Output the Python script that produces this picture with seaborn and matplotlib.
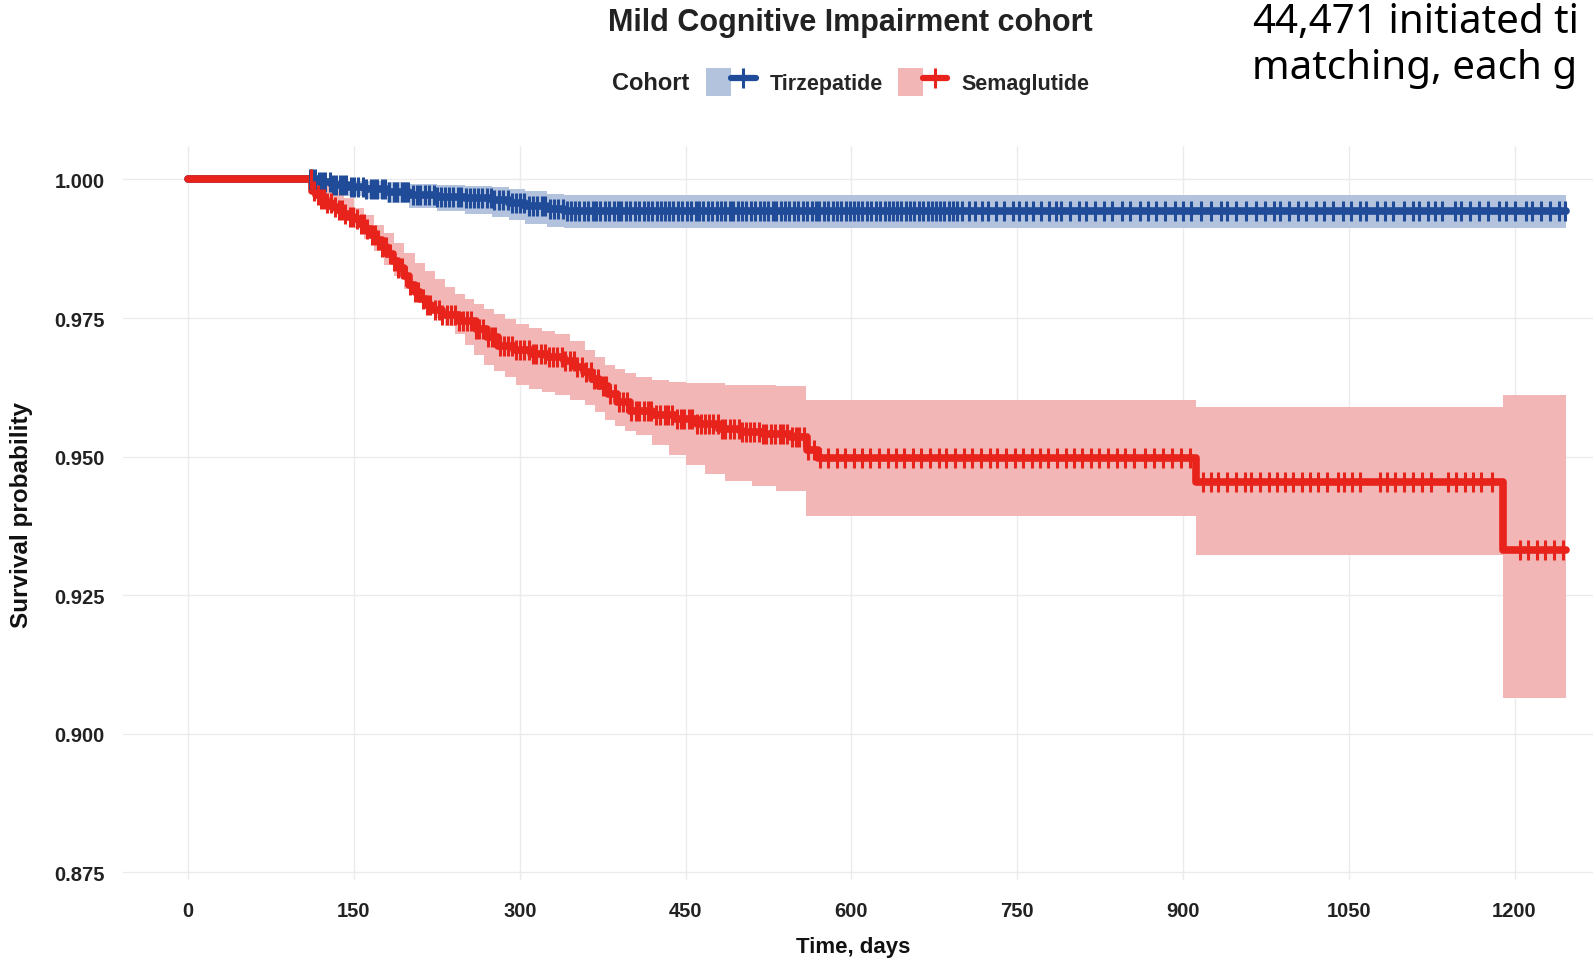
import numpy as np
import pandas as pd
import matplotlib.pyplot as plt
import seaborn as sns
from matplotlib.patches import Patch
from matplotlib.lines import Line2D
from matplotlib.legend_handler import HandlerTuple

# step curves (time in days, survival probability)
tirz_time = [0, 107, 118, 130, 145, 160, 180, 200, 225, 250, 275, 290, 305, 325, 340, 1247]
tirz_surv = [1.0, 1.0, 0.9995, 0.9990, 0.9986, 0.9982, 0.9978, 0.9972, 0.9968, 0.9966,
             0.9963, 0.9958, 0.9952, 0.9946, 0.9943, 0.9943]
tirz_lower = [1.0, 1.0, 0.9986, 0.9978, 0.9971, 0.9965, 0.9958, 0.9949, 0.9943, 0.9938,
              0.9933, 0.9926, 0.9920, 0.9914, 0.9912, 0.9912]
tirz_upper = [1.0, 1.0, 1.0, 0.9999, 0.9998, 0.9997, 0.9995, 0.9992, 0.9990, 0.9988,
              0.9986, 0.9983, 0.9979, 0.9974, 0.9972, 0.9972]

sema_time = [0, 107, 112, 116, 120, 125, 130, 135, 140, 145, 150, 155, 160, 165, 170,
             175, 180, 185, 190, 195, 200, 205, 210, 215, 220, 230, 245, 260, 270, 280,
             295, 310, 325, 340, 350, 358, 365, 372, 380, 388, 400, 420, 440, 460, 480,
             500, 520, 545, 560, 570, 912, 1190, 1247]
sema_surv = [1.0, 1.0, 0.998, 0.9972, 0.9965, 0.9958, 0.995, 0.9944, 0.9938, 0.9933,
             0.9928, 0.9919, 0.991, 0.990, 0.989, 0.9878, 0.9865, 0.9853, 0.984, 0.9825,
             0.981, 0.9797, 0.9785, 0.9774, 0.9765, 0.9755, 0.9745, 0.973, 0.9715,
             0.970, 0.9692, 0.9685, 0.968, 0.9672, 0.9662, 0.9652, 0.9640, 0.9628,
             0.9612, 0.9598, 0.9583, 0.9575, 0.9568, 0.9558, 0.955, 0.9545, 0.954,
             0.9535, 0.9512, 0.9498, 0.9455, 0.9332, 0.9332]

sema_ci_time = [0, 107, 115, 123, 132, 141, 150, 159, 168, 177, 186, 195, 205, 214, 223,
                232, 241, 250, 259, 268, 277, 287, 297, 308, 320, 332, 345, 359, 368,
                377, 386, 395, 405, 420, 435, 450, 468, 486, 510, 532, 559, 912, 1190, 1247]
sema_lower = [1.0, 1.0, 0.9978, 0.9965, 0.9948, 0.993, 0.9912, 0.9893, 0.987, 0.9845,
              0.9825, 0.9803, 0.9785, 0.9766, 0.9750, 0.9735, 0.9721, 0.9702, 0.9684,
              0.9666, 0.9655, 0.9643, 0.9630, 0.9622, 0.9616, 0.9611, 0.9602, 0.9593,
              0.9580, 0.9566, 0.9556, 0.9546, 0.9538, 0.9520, 0.9503, 0.9484, 0.9468,
              0.9456, 0.9446, 0.9438, 0.9392, 0.9323, 0.9064, 0.9064]
sema_upper = [1.0, 1.0, 1.0, 0.9992, 0.9980, 0.9966, 0.9949, 0.9935, 0.9918, 0.9903,
              0.9885, 0.9867, 0.9850, 0.9834, 0.9820, 0.9806, 0.9794, 0.9785, 0.9776,
              0.9766, 0.9757, 0.9748, 0.9739, 0.9732, 0.9726, 0.9721, 0.9708, 0.9693,
              0.9680, 0.9666, 0.9658, 0.9651, 0.9644, 0.9638, 0.9635, 0.9633, 0.9632,
              0.9630, 0.9629, 0.9628, 0.9602, 0.9589, 0.9611, 0.9611]

# censoring times (+ marks)
tirz_censor = [110, 112, 115, 118, 121, 124, 128, 131, 134, 137, 140, 143, 147, 150, 154,
               158, 161, 165, 168, 171, 175, 178, 182, 186, 189, 193, 196, 199, 203, 207,
               210, 214, 218, 222, 225, 229, 232, 236, 240, 244, 247, 251, 255, 259, 262,
               266, 270, 274, 277, 281, 285, 289, 293, 297, 300, 304, 308, 312, 316, 320,
               323, 327, 331, 335, 339, 343, 346, 350, 354, 358, 362, 366, 369, 373, 377,
               381, 385, 389, 392, 396, 400, 404, 408, 412, 416, 420, 424, 428, 431, 435,
               439, 443, 447, 451, 455, 459, 462, 466, 470, 474, 478, 482, 486, 490, 493,
               497, 501, 505, 509, 513, 517, 521, 525, 529, 532, 536, 540, 544, 548, 552,
               556, 560, 564, 568, 571, 575, 579, 583, 587, 591, 595, 599, 602, 606, 610,
               614, 618, 622, 626, 630, 634, 638, 641, 645, 649, 653, 657, 661, 665, 669,
               673, 677, 680, 684, 688, 692, 696, 700, 706, 712, 718, 724, 731, 738, 746,
               752, 758, 764, 772, 779, 785, 790, 798, 806, 812, 820, 829, 836, 845, 852,
               861, 868, 876, 884, 893, 900, 907, 916, 925, 934, 940, 948, 957, 966, 974,
               982, 988, 996, 1004, 1011, 1020, 1028, 1036, 1045, 1052, 1060, 1066, 1076,
               1083, 1090, 1100, 1108, 1114, 1122, 1128, 1134, 1146, 1152, 1160, 1168,
               1176, 1186, 1192, 1200, 1210, 1216, 1224, 1232, 1240, 1246]
sema_censor = [111, 114, 117, 120, 123, 126, 129, 133, 136, 139, 142, 146, 149, 153, 156,
               159, 162, 166, 169, 172, 175, 179, 183, 186, 190, 193, 197, 201, 205, 208,
               212, 216, 219, 223, 227, 230, 234, 238, 241, 245, 249, 252, 256, 260, 263,
               267, 271, 275, 278, 282, 286, 289, 293, 297, 300, 304, 308, 312, 315, 319,
               323, 326, 330, 334, 338, 341, 345, 349, 352, 356, 360, 364, 367, 371, 375,
               378, 382, 386, 390, 393, 397, 401, 405, 408, 412, 416, 419, 423, 427, 431,
               434, 438, 442, 446, 449, 453, 456, 460, 464, 468, 471, 475, 479, 483, 486,
               490, 494, 498, 501, 505, 508, 512, 516, 520, 523, 527, 531, 535, 538, 542,
               546, 550, 553, 557, 561, 566, 572, 579, 587, 594, 602, 610, 617, 625, 633,
               640, 648, 656, 663, 671, 679, 686, 694, 702, 709, 717, 725, 732, 740, 748,
               755, 763, 771, 778, 786, 794, 801, 809, 817, 824, 832, 840, 848, 856, 866,
               874, 882, 890, 898, 906, 918, 925, 932, 940, 948, 956, 962, 970, 978, 985,
               992, 1000, 1008, 1015, 1022, 1030, 1040, 1046, 1053, 1060, 1078, 1085,
               1092, 1100, 1108, 1116, 1124, 1140, 1147, 1155, 1162, 1170, 1180, 1205,
               1212, 1220, 1228, 1236, 1244]

cohorts = ["Tirzepatide", "Semaglutide"]
line_colors = {"Tirzepatide": "#1f4b99", "Semaglutide": "#e8231b"}
band_colors = {"Tirzepatide": "#b3c3de", "Semaglutide": "#f3b6b6"}

df = pd.concat([
    pd.DataFrame({"time": tirz_time, "surv": tirz_surv, "cohort": "Tirzepatide"}),
    pd.DataFrame({"time": sema_time, "surv": sema_surv, "cohort": "Semaglutide"}),
], ignore_index=True)

sns.set_theme(style="white")
plt.rcParams["font.family"] = ["Liberation Sans", "DejaVu Sans"]

fig = plt.figure(figsize=(15.93, 9.62), dpi=100)
ax = fig.add_axes([0.0772, 0.0842, 0.9228, 0.7628])

ax.fill_between(tirz_time, tirz_lower, tirz_upper, step="post",
                color=band_colors["Tirzepatide"], lw=0, zorder=1)
ax.fill_between(sema_ci_time, sema_lower, sema_upper, step="post",
                color=band_colors["Semaglutide"], lw=0, zorder=1)

sns.lineplot(data=df, x="time", y="surv", hue="cohort", hue_order=cohorts,
             palette=line_colors, drawstyle="steps-post", estimator=None,
             linewidth=5.5, legend=False, ax=ax, zorder=3)


def censor_marks(times, ct, cs, color):
    t = np.asarray(ct)
    s = np.asarray(cs)
    idx = np.searchsorted(t, times, side="right") - 1
    ax.plot(times, s[idx], ls="none", marker="|", ms=15, mew=2.2,
            color=color, zorder=4)


censor_marks(tirz_censor, tirz_time, tirz_surv, line_colors["Tirzepatide"])
censor_marks(sema_censor, sema_time, sema_surv, line_colors["Semaglutide"])

ax.set_xlim(-59, 1271)
ax.set_ylim(0.8736, 1.006)
ax.set_xticks([0, 150, 300, 450, 600, 750, 900, 1050, 1200])
ax.set_yticks([0.875, 0.900, 0.925, 0.950, 0.975, 1.000])
ax.set_yticklabels(["0.875", "0.900", "0.925", "0.950", "0.975", "1.000"])
ax.grid(True, color="#ebebeb", lw=1)
ax.set_axisbelow(True)
for sp in ax.spines.values():
    sp.set_visible(False)
ax.tick_params(axis="both", length=4, width=0.8, color="#444444",
               labelsize=14.5, labelcolor="#222222")
ax.tick_params(axis="x", pad=11)
ax.tick_params(axis="y", pad=9)
for lab in ax.get_xticklabels() + ax.get_yticklabels():
    lab.set_fontweight("bold")
ax.set_xlabel("Time, days", fontsize=16, fontweight="bold", color="#111111")
ax.set_ylabel("Survival probability", fontsize=17.5, fontweight="bold", color="#111111")
ax.xaxis.set_label_coords(0.4966, -0.0913)
ax.yaxis.set_label_coords(-0.0687, 0.4986)
ax.xaxis.label.set_va("center")
ax.yaxis.label.set_va("center")

fig.text(0.5336, 0.976, "Mild Cognitive Impairment cohort", ha="center", va="center",
         fontsize=22, fontweight="bold", color="#222222")

# legend
fig.text(651 / 1593, 1 - 84 / 962, "Cohort", ha="center", va="center",
         fontsize=17, fontweight="bold", color="#222222")
handles = []
for c in cohorts:
    handles.append((Patch(facecolor=band_colors[c], edgecolor="none"),
                    Line2D([], [], color=line_colors[c], lw=4.5, marker="|",
                           ms=15, mew=2.2)))
fig.legend(handles, cohorts, handler_map={tuple: HandlerTuple(ndivide=None, pad=0)},
           loc="center left", bbox_to_anchor=(706 / 1593, 1 - 83 / 962), ncol=2,
           frameon=False, prop={"weight": "bold", "size": 15.5},
           handlelength=2.3, handleheight=1.65, handletextpad=0.65, columnspacing=0.7,
           borderaxespad=0, borderpad=0)

# cropped caption text at top right
cap_font = ["Noto Sans", "DejaVu Sans"]
t1 = fig.text(1252 / 1593, 1 - 33 / 962, "44,471", ha="left", va="baseline",
              fontsize=29, fontweight="bold", family=cap_font, color="black")
fig.canvas.draw()
bb = t1.get_window_extent()
fig.text(bb.x1 / fig.bbox.width, 1 - 33 / 962, " initiated ti", ha="left",
         va="baseline", fontsize=29, family=cap_font, color="black")
fig.text(1252 / 1593, 1 - 79 / 962, "matching, each g", ha="left", va="baseline",
         fontsize=29, family=cap_font, color="black")

fig.savefig("out.png", dpi=100, facecolor="white")
plt.close(fig)
